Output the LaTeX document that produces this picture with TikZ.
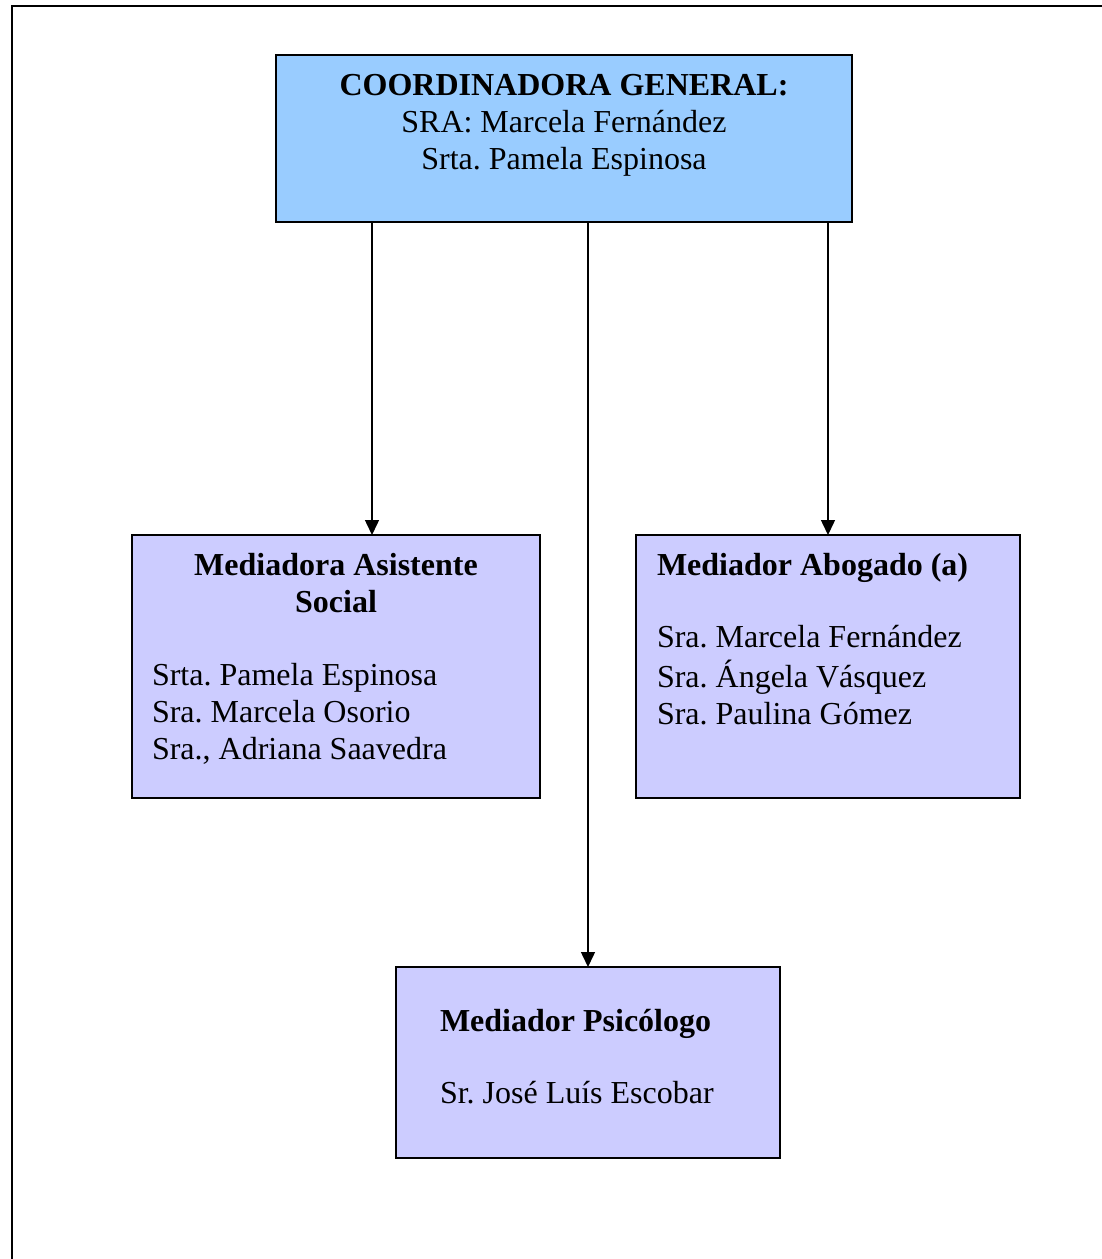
\documentclass[tikz,border=0pt]{standalone}
\usepackage{fontspec}
\setmainfont{Liberation Serif}
\usetikzlibrary{arrows.meta}
\frenchspacing
\definecolor{topblue}{HTML}{99CCFF}
\definecolor{lavender}{HTML}{CCCCFF}
\tikzset{
  boxshape/.style={draw=black, line width=1.6bp, inner sep=0pt, outer sep=0pt, anchor=north west},
  txt/.style={inner sep=0pt, outer sep=0pt, font=\frenchspacing\fontsize{32bp}{37bp}\selectfont},
  arr/.style={line width=1.5bp, -{Triangle[width=14bp,length=15bp]}}
}
\begin{document}
\begin{tikzpicture}[x=1bp,y=-1bp]
\useasboundingbox (0,0) rectangle (1102,1259);
\fill[white] (0,0) rectangle (1102,1259);
% outer frame (extends beyond the page to the right and bottom)
\draw[line width=1.8bp] (12,6) rectangle (1120,1280);

% boxes
\node[boxshape, fill=topblue, minimum width=576bp, minimum height=167bp] (top) at (276,55) {};
\node[boxshape, fill=lavender, minimum width=408bp, minimum height=263bp] (left) at (132,535) {};
\node[boxshape, fill=lavender, minimum width=384bp, minimum height=263bp] (right) at (636,535) {};
\node[boxshape, fill=lavender, minimum width=384bp, minimum height=191bp] (bottom) at (396,967) {};

% texts
\node[txt, anchor=north, align=center] (toptxt) at (564,70)
  {\strut\textbf{COORDINADORA GENERAL:}\\\strut SRA: Marcela Fernández\\\strut Srta. Pamela Espinosa};
\node[txt, anchor=north, align=center] (lefttitle) at (336,550)
  {\strut\textbf{Mediadora Asistente}\\\strut\textbf{Social}};
\node[txt, anchor=north west, align=left] (leftbody) at (152,660)
  {\strut Srta. Pamela Espinosa\\\strut Sra. Marcela Osorio\\\strut Sra., Adriana Saavedra};
\node[txt, anchor=north west, align=left] (righttitle) at (657,550)
  {\strut\textbf{Mediador Abogado (a)}};
\node[txt, anchor=north west, align=left] (rightbody) at (657,622)
  {\strut Sra. Marcela Fernández\\\strut Sra. Ángela Vásquez\\\strut Sra. Paulina Gómez};
\node[txt, anchor=north west, align=left] (bottomtitle) at (440,1006)
  {\strut\textbf{Mediador Psicólogo}};
\node[txt, anchor=north west, align=left] (bottombody) at (440,1078)
  {\strut Sr. José Luís Escobar};

% connectors
\coordinate (xl) at (372,0);
\coordinate (xm) at (588,0);
\coordinate (xr) at (828,0);
\draw[arr] (top.south -| xl) -- (left.north -| xl);
\draw[arr] (top.south -| xm) -- (bottom.north -| xm);
\draw[arr] (top.south -| xr) -- (right.north -| xr);
\end{tikzpicture}
\end{document}
